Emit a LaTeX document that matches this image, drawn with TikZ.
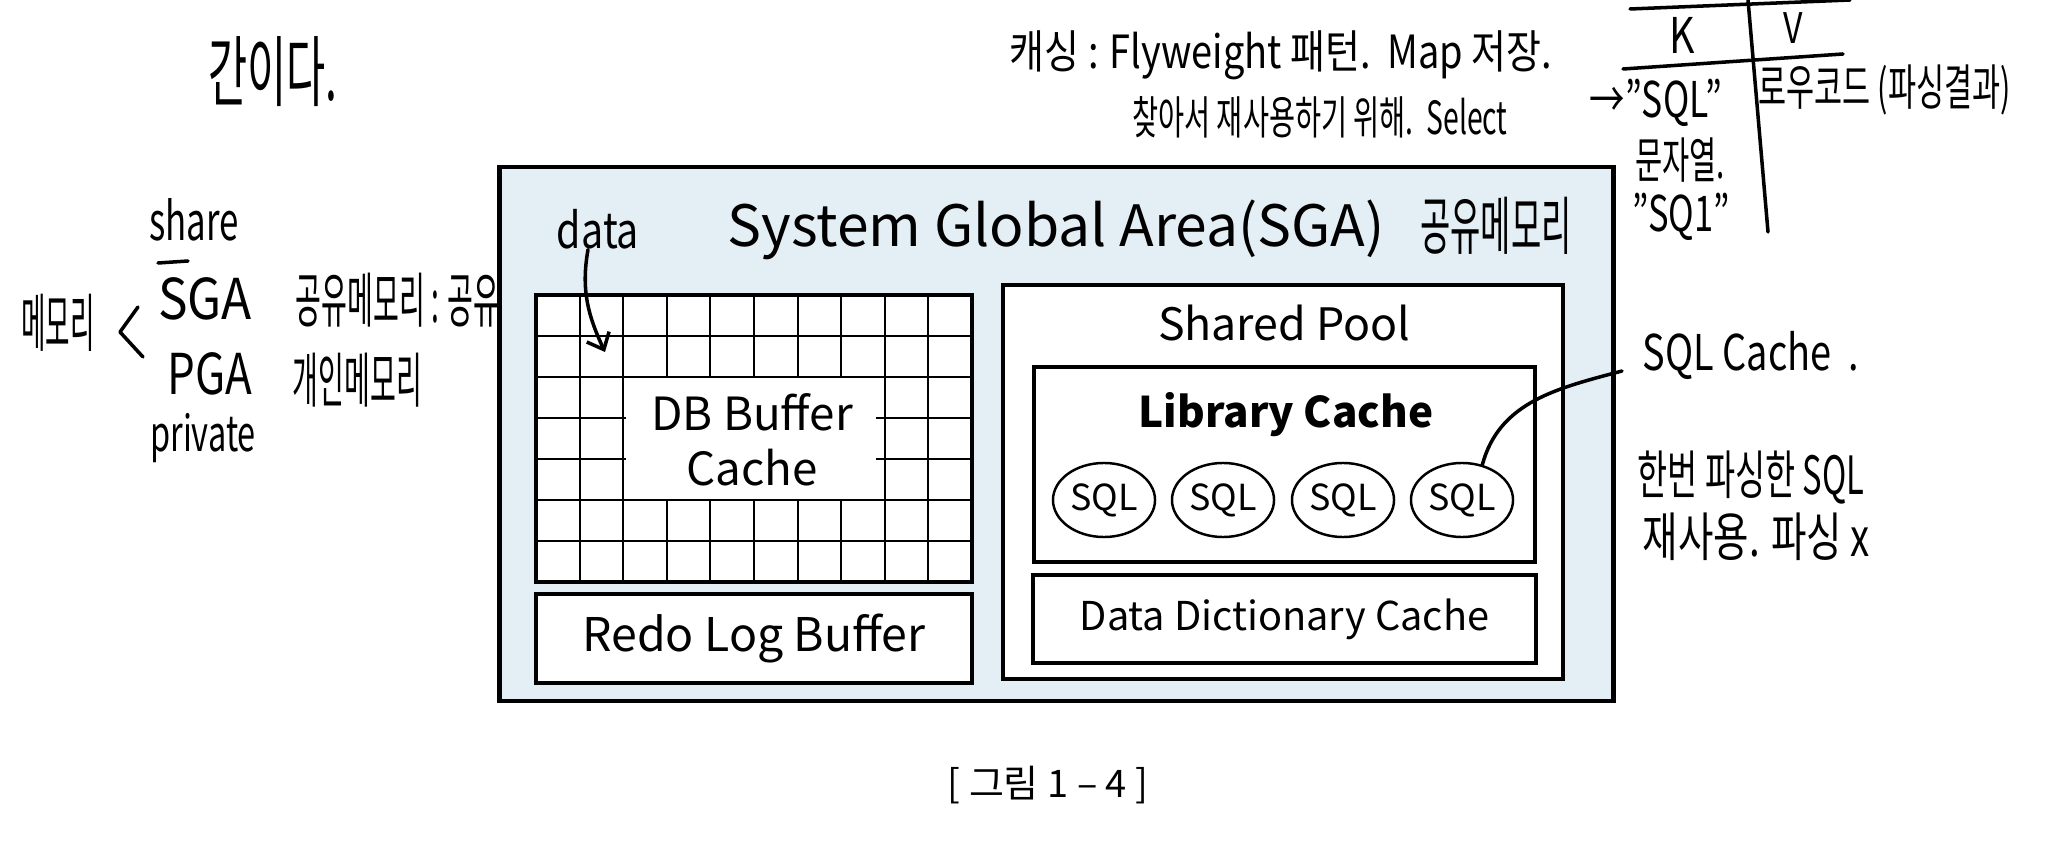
\documentclass[tikz,border=0pt]{standalone}
\usepackage{fontspec}
\setmainfont{Noto Sans CJK KR}
\usetikzlibrary{shapes.geometric,positioning,arrows.meta}
\definecolor{sgablue}{RGB}{228,239,245}
\newcommand{\hw}[2]{\scalebox{#1}[1]{#2}}
\tikzset{
  membox/.style  = {rectangle, draw=black, line width=1.1pt, fill=white, inner sep=0pt},
  sqlnode/.style = {ellipse, draw=black, line width=0.7pt, minimum width=1.02cm,
                    minimum height=0.74cm, inner sep=0pt, font=\fontsize{10.2}{12}\selectfont},
  gridline/.style= {line width=0.6pt},
  hand/.style    = {inner sep=0pt, font=\fontsize{#1}{#1}\selectfont},
  pen/.style     = {line width=1pt, line cap=round, line join=round},
}

\begin{document}
\begin{tikzpicture}[x=0.01cm, y=-0.01cm]
\useasboundingbox (0,0) rectangle (2048,855);
\fill[white] (0,0) rectangle (2048,855);
% book text above the figure
\node[hand=22] (kanida) at (273,72) {\hw{0.55}{간이다.}};
% notes on the left
\node[hand=15] (share) at (194,220) {\hw{0.66}{share}};
\draw[pen] (158,263) -- (188,261);
\node[hand=16] (sgal) at (205,299) {\hw{0.88}{SGA}};
\node[hand=16] (pgal) at (210,374) {\hw{0.78}{PGA}};
\node[hand=14] (private) at (203,438) {\hw{0.66}{private}};
\node[hand=18] (mem) at (58,323) {\hw{0.42}{메모리}};
\draw[pen] (138,307) -- (120,332) -- (143,357);
\node[hand=17, anchor=west] (sgamem) at (295,300) {\hw{0.47}{공유메모리 : 공유}};
\node[hand=17, anchor=west] (pgamem) at (292,380) {\hw{0.47}{개인메모리}};
% notes on top
\node[hand=13] (note1) at (1281,55) {\hw{0.83}{캐싱 : Flyweight 패턴.\ \ Map 저장.}};
\node[hand=13] (note2) at (1320,117) {\hw{0.62}{찾아서 재사용하기 위해.\ \ Select}};
% K/V table
\draw[pen] (1630,9) -- (1850,0);
\draw[pen] (1623,69) -- (1843,54);
\draw[pen] (1748,0) -- (1768,232);
\node[hand=14] (k) at (1682,35) {\hw{0.8}{K}};
\node[hand=12] (v) at (1793,28) {\hw{0.8}{V}};
\node[hand=14] (key) at (1656,103) {\hw{0.72}{→"SQL"}};
\node[hand=14] (strtype) at (1680,160) {\hw{0.6}{문자열.}};
\node[hand=14] (key2) at (1681,217) {\hw{0.7}{"SQ1"}};
\node[hand=14, anchor=west] (val) at (1758,90) {\hw{0.62}{로우코드 (파싱결과)}};
% notes on the right
\node[hand=14, anchor=west] (sqlcache) at (1642,355) {\hw{0.77}{SQL Cache\ \ .}};
\node[hand=15, anchor=west] (parsed) at (1637,478) {\hw{0.62}{한번 파싱한 SQL}};
\node[hand=15, anchor=west] (reuse) at (1642,537) {\hw{0.73}{재사용. 파싱 x}};
\coordinate (cacheend) at (1622,371);

% System Global Area
\node[membox, fill=sgablue, line width=1.3pt, minimum width=11.13cm, minimum height=5.34cm] (sga) at (1056.5,434) {};
\node[font=\fontsize{16.2}{18}\selectfont] (title) at (1056,230) {System Global Area(SGA)};
\node[hand=18] (titlenote) at (1496,226) {\hw{0.52}{공유메모리}};
\node[hand=14] (data) at (598,229) {\hw{0.8}{data}};
\coordinate (datatip) at (605,352);

% DB Buffer Cache grid
\node[membox, minimum width=4.36cm, minimum height=2.87cm] (dbbuf) at (754,438.5) {};
\foreach \i in {1,...,9}
  \draw[gridline] (536+\i*43.6,295) -- (536+\i*43.6,582);
\foreach \j in {1,...,6}
  \draw[gridline] (536,295+\j*41) -- (972,295+\j*41);
\fill[white] (626,378.5) rectangle (876,499.5);
\node[align=center, font=\fontsize{13}{15.6}\selectfont] (dbtext) at (752,440) {DB Buffer\\Cache};
\node[membox, minimum width=4.36cm, minimum height=0.89cm, font=\fontsize{13.2}{16}\selectfont] (redo) at (754,638.5) {Redo Log Buffer};

% Shared Pool
\node[membox, minimum width=5.60cm, minimum height=3.94cm] (pool) at (1283,482) {};
\node[font=\fontsize{12.7}{15}\selectfont] (pooltext) at (1284,323) {Shared Pool};
\node[membox, minimum width=5.01cm, minimum height=1.95cm] (lib) at (1284.5,464.5) {};
\node[font=\bfseries\fontsize{12}{15}\selectfont] (libtext) at (1286,415) {Library Cache};
\foreach \n/\x in {1/1104,2/1223,3/1343,4/1462}
  \node[sqlnode] (sql\n) at (\x,500) {SQL};
\node[membox, minimum width=5.03cm, minimum height=0.88cm, font=\fontsize{11.3}{14}\selectfont] (dd) at (1284.5,619) {Data Dictionary Cache};

% handwritten connectors
\draw[pen, -{Straight Barb[length=4pt,width=7pt]}] ([xshift=-0.1cm]data.south) to[out=-100,in=115] (datatip);
\draw[pen] (sql4.60) to[out=75,in=195] (cacheend);

% caption
\node[font=\fontsize{10.8}{12}\selectfont] (caption) at (1048,785) {[ 그림 1 – 4 ]};
\end{tikzpicture}
\end{document}
